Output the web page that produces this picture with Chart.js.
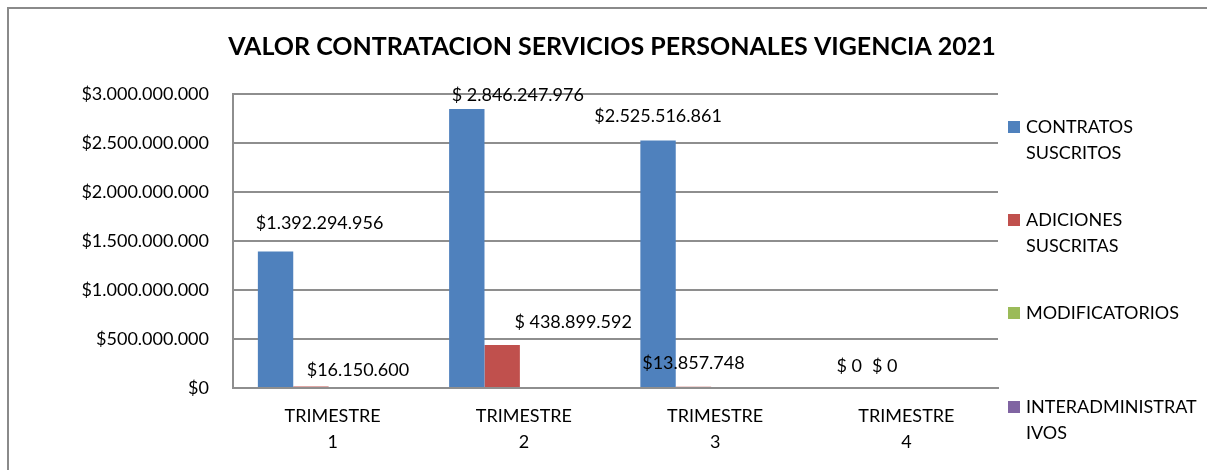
<!DOCTYPE html>
<html><head><meta charset="utf-8">
<script src="https://cdn.jsdelivr.net/npm/chart.js@4.4.1/dist/chart.umd.min.js"></script>
<style>html,body{margin:0;padding:0;background:#fff}#wrap{position:relative;width:1207px;height:470px}</style>
</head><body><div id="wrap"><canvas id="c" width="1207" height="470" style="width:1207px;height:470px"></canvas></div>
<script>
// ---- data ----
const chartTitle = 'VALOR CONTRATACION SERVICIOS PERSONALES VIGENCIA 2021';
const categories = [['TRIMESTRE','1'],['TRIMESTRE','2'],['TRIMESTRE','3'],['TRIMESTRE','4']];
const seriesNames = [['CONTRATOS','SUSCRITOS'],['ADICIONES','SUSCRITAS'],['MODIFICATORIOS'],['INTERADMINISTRAT','IVOS']];
const contratos = [1392294956, 2846247976, 2525516861, 0];
const adiciones = [16150600, 438899592, 13857748, 0];
const modificatorios = [null, null, null, null];
const interadministrativos = [null, null, null, null];
const yTickValues = [0, 500000000, 1000000000, 1500000000, 2000000000, 2500000000, 3000000000];
// label currency spacing as written in the picture
const contratosLabelSpace = ['', ' ', '', ' '];
const adicionesLabelSpace = ['', ' ', '', ' '];

// ---- style ----
const FONT = 'Lato';
const colors = ['#4F81BD', '#C0504D', '#9BBB59', '#8064A2'];
const labelOffsets = [
  [[44,-28],[51,-14],[0,-24],[0,-22]],
  [[47,-16],[71,-23],[0,-23],[0,-22]]
];

function dots(n){ return String(Math.round(n)).replace(/\B(?=(\d{3})+(?!\d))/g,'.'); }

const frameAndExtras = {
  id: 'extras',
  beforeDraw(chart){
    const ctx = chart.ctx;
    ctx.save();
    ctx.fillStyle = '#fff';
    ctx.fillRect(0,0,chart.width,chart.height);
    ctx.strokeStyle = '#8a8a8a';
    ctx.lineWidth = 2;
    ctx.beginPath();
    ctx.moveTo(8, chart.height); ctx.lineTo(8, 8); ctx.lineTo(chart.width, 8);
    ctx.stroke();
    ctx.restore();
  },
  afterDraw(chart){
    const ctx = chart.ctx;
    ctx.save();
    // title
    ctx.fillStyle = '#000';
    ctx.font = 'bold 25px ' + FONT;
    ctx.textAlign = 'center';
    ctx.textBaseline = 'middle';
    ctx.fillText(chartTitle, 612, 47);
    // data labels
    ctx.font = '18px ' + FONT;
    const spaces = [contratosLabelSpace, adicionesLabelSpace];
    [0,1].forEach(di => {
      const meta = chart.getDatasetMeta(di);
      const vals = chart.data.datasets[di].data;
      meta.data.forEach((bar, i) => {
        if (vals[i] === null) return;
        const off = labelOffsets[di][i];
        ctx.fillText('$' + spaces[di][i] + dots(vals[i]), bar.x + off[0], bar.y + off[1]);
      });
    });
    // legend
    const legendY = [127, 220, 313, 407];
    ctx.textAlign = 'left';
    chart.data.datasets.forEach((ds, i) => {
      ctx.fillStyle = ds.backgroundColor;
      ctx.fillRect(1008, legendY[i] - 6, 12, 12);
      ctx.fillStyle = '#000';
      ds.label.forEach((line, j) => ctx.fillText(line, 1026, legendY[i] + j * 26));
    });
    ctx.restore();
  }
};

const datasets = [contratos, adiciones, modificatorios, interadministrativos].map((d, i) => ({
  label: seriesNames[i], data: d, backgroundColor: colors[i], borderWidth: 0,
  categoryPercentage: 0.74, barPercentage: 1.0
}));

new Chart(document.getElementById('c'), {
  type: 'bar',
  data: { labels: categories, datasets },
  plugins: [frameAndExtras],
  options: {
    responsive: false, animation: false, devicePixelRatio: 1,
    layout: { padding: { top: 94, right: 209, bottom: 0, left: 0 } },
    plugins: { legend: { display: false }, title: { display: false }, tooltip: { enabled: false } },
    scales: {
      x: {
        grid: { display: false, drawTicks: false },
        border: { display: true, color: '#8e8e8e', width: 2 },
        ticks: { color: '#000', padding: 16, labelOffset: 4, font: { family: FONT, size: 18, lineHeight: 1.4 } },
        afterFit(s){ s.height = 82; }
      },
      y: {
        min: 0, max: 3000000000,
        afterBuildTicks(s){ s.ticks = yTickValues.map(v => ({ value: v })); },
        grid: { color: '#8e8e8e', lineWidth: 2, drawTicks: false },
        border: { display: true, color: '#8e8e8e', width: 2 },
        ticks: { color: '#000', padding: 24, font: { family: FONT, size: 18 }, callback: v => '$' + dots(v) },
        afterFit(s){ s.width = 233; }
      }
    }
  }
});
</script>
</body></html>
